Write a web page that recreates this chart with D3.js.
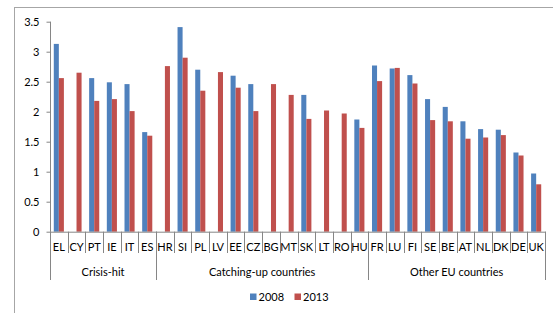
<!DOCTYPE html>
<html lang="en">
<head>
<meta charset="utf-8">
<title>2008 vs 2013</title>
<script src="https://d3js.org/d3.v7.min.js"></script>
<style>
  body { margin: 0; background: #fff; }
  text { font-family: Lato, "Open Sans", sans-serif; font-size: 11px; fill: #000; }
  .axis path, .axis line { stroke: #868686; }
</style>
</head>
<body>
<svg width="553" height="313"></svg>
<script>
// country codes, in chart order
var countries = ["EL", "CY", "PT", "IE", "IT", "ES",
  "HR", "SI", "PL", "LV", "EE", "CZ", "BG", "MT", "SK", "LT", "RO", "HU",
  "FR", "LU", "FI", "SE", "BE", "AT", "NL", "DK", "DE", "UK"];
var groups = ["Crisis-hit", "Catching-up countries", "Other EU countries"];
var groupSizes = [6, 12, 10];
var series = ["2008", "2013"];
var colors = ["#4F81BD", "#C0504D"];
// null = no bar for that year
var values2008 = [3.13, null, 2.56, 2.49, 2.46, 1.66,
  null, 3.41, 2.70, null, 2.60, 2.46, null, null, 2.28, null, null, 1.87,
  2.77, 2.72, 2.61, 2.21, 2.08, 1.84, 1.71, 1.70, 1.32, 0.97];
var values2013 = [2.56, 2.65, 2.18, 2.21, 2.01, 1.60,
  2.76, 2.90, 2.35, 2.66, 2.40, 2.01, 2.46, 2.28, 1.88, 2.02, 1.97, 1.73,
  2.51, 2.73, 2.47, 1.86, 1.84, 1.55, 1.57, 1.61, 1.27, 0.79];
var yTicks = [0, 0.5, 1, 1.5, 2, 2.5, 3, 3.5];

var svg = d3.select("svg");
var pLeft = 50, pRight = 545, pTop = 21.7, pBottom = 231.7;

// outer chart frame (cut off at right and bottom like the original)
svg.append("rect")
  .attr("x", 14.5).attr("y", 7.5)
  .attr("width", 600).attr("height", 400)
  .attr("fill", "none").attr("stroke", "#a6a6a6");

var x = d3.scaleBand().domain(countries).range([pLeft, pRight])
  .paddingInner(1.5 / 3.5).paddingOuter(0.75 / 3.5);
var xs = d3.scaleBand().domain(series).range([0, x.bandwidth()]);
var y = d3.scaleLinear().domain([0, 3.5]).range([pBottom, pTop]);

// y axis
var yAxis = svg.append("g").attr("class", "axis")
  .attr("transform", "translate(" + (pLeft + 0.5) + ",0)")
  .call(d3.axisLeft(y).tickValues(yTicks).tickSize(4).tickPadding(7)
    .tickFormat(function(d) { return d; }));
yAxis.select(".domain").attr("d", "M0," + y(3.5) + "V" + y(0));
yAxis.attr("font-family", null).attr("font-size", null);

// bars
var rows = countries.map(function(c, i) {
  return { id: c, vals: [values2008[i], values2013[i]] };
});
var cat = svg.append("g").selectAll("g").data(rows).enter().append("g")
  .attr("transform", function(d) { return "translate(" + x(d.id) + ",0)"; });
cat.selectAll("rect")
  .data(function(d) {
    return d.vals.map(function(v, j) { return { s: series[j], v: v, j: j }; })
      .filter(function(e) { return e.v != null; });
  })
  .enter().append("rect")
  .attr("x", function(d) { return xs(d.s); })
  .attr("y", function(d) { return y(d.v); })
  .attr("width", xs.bandwidth())
  .attr("height", function(d) { return y(0) - y(d.v); })
  .attr("fill", function(d) { return colors[d.j]; });

// x axis line + category separators
var ax = svg.append("g").attr("class", "axis");
ax.append("line")
  .attr("x1", pLeft).attr("x2", pRight)
  .attr("y1", pBottom + 0.5).attr("y2", pBottom + 0.5);
var step = x.step();
d3.range(countries.length + 1).forEach(function(i) {
  var xx = Math.round(pLeft + i * step) + 0.5;
  ax.append("line").attr("x1", xx).attr("x2", xx)
    .attr("y1", pBottom).attr("y2", 253);
});
// group separators
var cum = 0;
[0].concat(groupSizes).forEach(function(n) {
  cum += n;
  var xx = Math.round(pLeft + cum * step) + 0.5;
  ax.append("line").attr("x1", xx).attr("x2", xx)
    .attr("y1", pBottom).attr("y2", 280);
});

// category labels
svg.append("g").selectAll("text").data(countries).enter().append("text")
  .attr("x", function(d) { return x(d) + x.bandwidth() / 2; })
  .attr("y", 250.5)
  .attr("text-anchor", "middle")
  .text(function(d) { return d; });

// group labels
cum = 0;
groups.forEach(function(g, i) {
  var x0 = pLeft + cum * step;
  cum += groupSizes[i];
  var x1 = pLeft + cum * step;
  svg.append("text")
    .attr("x", (x0 + x1) / 2).attr("y", 275.5)
    .attr("text-anchor", "middle")
    .text(g);
});

// legend
var legX = [250, 294.5];
series.forEach(function(s, i) {
  svg.append("rect").attr("x", legX[i]).attr("y", 293.5)
    .attr("width", 6.5).attr("height", 6.5).attr("fill", colors[i]);
  svg.append("text").attr("x", legX[i] + 8.5).attr("y", 300.5).text(s);
});
</script>
</body>
</html>
